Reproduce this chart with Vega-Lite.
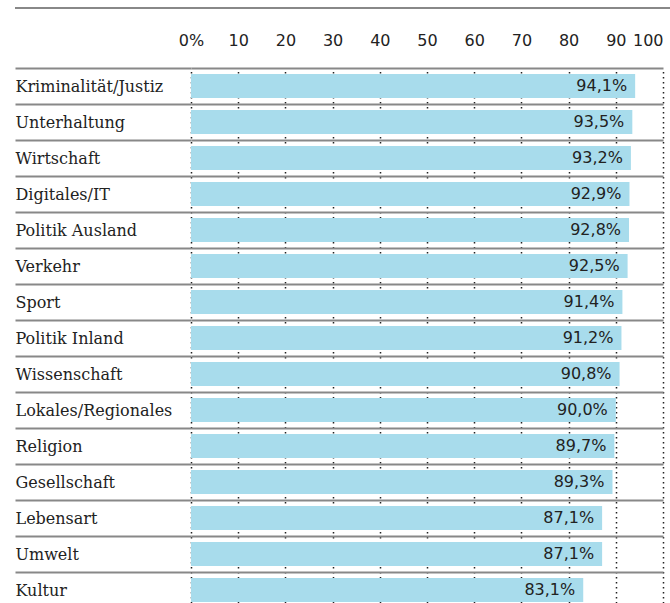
{
  "$schema": "https://vega.github.io/schema/vega-lite/v6.json",
  "width": 472,
  "height": 540,
  "padding": {"left": 14, "top": 7, "right": 0, "bottom": 0},
  "autosize": {"type": "pad"},
  "background": "white",
  "config": {
    "view": {"stroke": null},
    "locale": {"number": {"decimal": ",", "thousands": ".", "grouping": [3], "currency": ["", "%"]}}
  },
  "data": {
    "values": [
      {"topic": "Kriminalität/Justiz", "value": 94.1},
      {"topic": "Unterhaltung", "value": 93.5},
      {"topic": "Wirtschaft", "value": 93.2},
      {"topic": "Digitales/IT", "value": 92.9},
      {"topic": "Politik Ausland", "value": 92.8},
      {"topic": "Verkehr", "value": 92.5},
      {"topic": "Sport", "value": 91.4},
      {"topic": "Politik Inland", "value": 91.2},
      {"topic": "Wissenschaft", "value": 90.8},
      {"topic": "Lokales/Regionales", "value": 90.0},
      {"topic": "Religion", "value": 89.7},
      {"topic": "Gesellschaft", "value": 89.3},
      {"topic": "Lebensart", "value": 87.1},
      {"topic": "Umwelt", "value": 87.1},
      {"topic": "Kultur", "value": 83.1}
    ]
  },
  "layer": [
    {
      "mark": {"type": "rule", "color": "#888888", "strokeWidth": 2},
      "encoding": {
        "x": {"datum": -37.25, "type": "quantitative", "scale": {"domain": [0, 100], "nice": false}},
        "x2": {"datum": 101.5},
        "y": {"datum": 1.1111, "type": "quantitative", "scale": {"domain": [0, 1], "nice": false, "zero": false}, "axis": null}
      }
    },
    {
      "mark": {"type": "bar", "color": "#a8dcec", "height": {"band": 0.667}},
      "encoding": {
        "y": {
          "field": "topic", "type": "nominal", "sort": null,
          "scale": {"paddingInner": 0, "paddingOuter": 0},
          "axis": {
            "title": null,
            "domain": false,
            "ticks": true,
            "tickSize": 176,
            "tickColor": "#888888",
            "tickWidth": 2,
            "tickBand": "extent",
            "grid": true,
            "gridColor": "#888888",
            "gridWidth": 2,
            "labelAlign": "left",
            "labelPadding": 0,
            "labelFont": "DejaVu Serif",
            "labelFontSize": 16,
            "labelColor": "#222222",
            "labelLimit": 200
          }
        },
        "x": {
          "field": "value", "type": "quantitative",
          "scale": {"domain": [0, 100], "nice": false},
          "axis": {
            "orient": "top",
            "title": null,
            "domain": false,
            "ticks": false,
            "tickSize": 0,
            "values": [0, 10, 20, 30, 40, 50, 60, 70, 80, 90, 100],
            "labelExpr": "datum.value == 0 ? '0%' : datum.value",
            "labelFlush": false,
            "labelAlign": {"condition": {"test": "datum.value == 100", "value": "right"}, "value": "center"},
            "labelBaseline": "alphabetic",
            "labelPadding": 23,
            "labelFont": "DejaVu Sans",
            "labelFontSize": 16,
            "labelColor": "#222222",
            "grid": true,
            "gridColor": "#222222",
            "gridWidth": 1.5,
            "gridDash": [1.5, 3.5]
          }
        }
      }
    },
    {
      "mark": {"type": "text", "align": "right", "baseline": "middle", "dx": -8, "font": "DejaVu Sans", "fontSize": 16, "color": "#222222"},
      "encoding": {
        "y": {"field": "topic", "type": "nominal", "sort": null, "scale": {"paddingInner": 0, "paddingOuter": 0}, "axis": null},
        "x": {"field": "value", "type": "quantitative"},
        "text": {"field": "value", "type": "quantitative", "format": "$.1f"}
      }
    }
  ],
  "resolve": {"scale": {"y": "independent"}, "axis": {"y": "independent"}}
}
